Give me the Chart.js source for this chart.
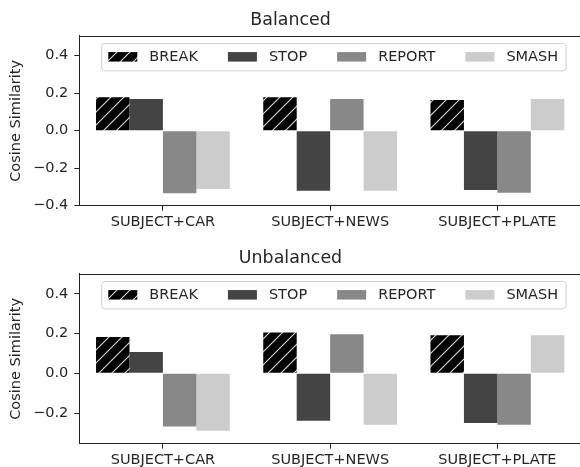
<!DOCTYPE html>
<html lang="en">
<head>
<meta charset="UTF-8">
<title>Cosine Similarity</title>
<script src="https://cdn.jsdelivr.net/npm/chart.js"></script>
<style>
  html, body { margin: 0; padding: 0; background: #fff; overflow: hidden; width: 580px; height: 467px; }
  .panel { position: absolute; left: 0; width: 581px; height: 235px; }
  #top { top: 0; }
  #bottom { top: 238px; }
</style>
</head>
<body>
<div class="panel" id="top"><canvas id="balanced" width="581" height="235"></canvas></div>
<div class="panel" id="bottom"><canvas id="unbalanced" width="581" height="235"></canvas></div>
<script>
var categories = ['SUBJECT+CAR', 'SUBJECT+NEWS', 'SUBJECT+PLATE'];
var seriesNames = ['BREAK', 'STOP', 'REPORT', 'SMASH'];

// values
var balancedBreak  = [0.178, 0.178, 0.164];
var balancedStop   = [0.169, -0.320, -0.316];
var balancedReport = [-0.334, 0.169, -0.331];
var balancedSmash  = [-0.311, -0.320, 0.169];

var unbalancedBreak  = [0.183, 0.205, 0.192];
var unbalancedStop   = [0.108, -0.239, -0.250];
var unbalancedReport = [-0.267, 0.197, -0.259];
var unbalancedSmash  = [-0.289, -0.259, 0.192];

var balancedTicks = [-0.4, -0.2, 0.0, 0.2, 0.4];
var unbalancedTicks = [-0.2, 0.0, 0.2, 0.4];

var FONT = '"DejaVu Sans", Verdana, sans-serif';
var TEXT = '#262626';
var seriesColors = [null, '#444444', '#888888', '#cccccc'];

function makeHatch(ctx) {
    // black fill with thin white "/" lines
    var c = document.createElement('canvas');
    c.width = 13; c.height = 13;
    var g = c.getContext('2d');
    g.fillStyle = '#000';
    g.fillRect(0, 0, 13, 13);
    g.strokeStyle = 'rgba(255,255,255,0.85)';
    g.lineWidth = 1.1;
    g.beginPath();
    g.moveTo(-1, 14); g.lineTo(14, -1);
    g.moveTo(-1, 1); g.lineTo(1, -1);
    g.moveTo(12, 14); g.lineTo(14, 12);
    g.stroke();
    return ctx.createPattern(c, 'repeat');
}

function fmt(v) {
    var s = Math.abs(v).toFixed(1);
    return v < -1e-9 ? '\u2212' + s : s;
}

// box around the plot (top/right spines)
var frame = {
    id: 'frame',
    afterDraw: function(chart) {
        var a = chart.chartArea, ctx = chart.ctx;
        ctx.save();
        ctx.strokeStyle = '#222';
        ctx.lineWidth = 1;
        ctx.beginPath();
        ctx.moveTo(a.left, Math.round(a.top) + 0.5);
        ctx.lineTo(a.right, Math.round(a.top) + 0.5);
        ctx.lineTo(a.right, a.bottom);
        ctx.stroke();
        ctx.restore();
    }
};

// matplotlib-like legend inside the axes, 4 columns
var insideLegend = {
    id: 'insideLegend',
    afterDatasetsDraw: function(chart) {
        var ctx = chart.ctx, a = chart.chartArea;
        var ds = chart.data.datasets;
        ctx.save();
        ctx.font = '14.5px ' + FONT;
        var x0 = a.left + 22.4, y0 = a.top + 7.5, h = 27.4;
        var w = 6.6;
        ds.forEach(function(d, i) {
            w += 41 + ctx.measureText(d.label).width + (i < ds.length - 1 ? 30 : 8);
        });
        var r = 3;
        ctx.beginPath();
        ctx.moveTo(x0 + r, y0);
        ctx.arcTo(x0 + w, y0, x0 + w, y0 + h, r);
        ctx.arcTo(x0 + w, y0 + h, x0, y0 + h, r);
        ctx.arcTo(x0, y0 + h, x0, y0, r);
        ctx.arcTo(x0, y0, x0 + w, y0, r);
        ctx.closePath();
        ctx.fillStyle = 'rgba(255,255,255,0.8)';
        ctx.fill();
        ctx.strokeStyle = '#d0d0d0';
        ctx.lineWidth = 1;
        ctx.stroke();

        var x = x0 + 6.6;
        ds.forEach(function(d, i) {
            ctx.fillStyle = d.backgroundColor;
            ctx.fillRect(x, y0 + 8.6, 29, 9.5);
            ctx.fillStyle = TEXT;
            ctx.textBaseline = 'middle';
            ctx.textAlign = 'left';
            ctx.fillText(d.label, x + 41, y0 + h / 2 + 0.3);
            x += 41 + ctx.measureText(d.label).width + 30;
        });
        ctx.restore();
    }
};

function buildChart(id, title, series, yMin, yMax, yTicks) {
    var canvas = document.getElementById(id);
    var ctx = canvas.getContext('2d');
    var hatch = makeHatch(ctx);
    var datasets = seriesNames.map(function(name, i) {
        return {
            label: name,
            data: series[i],
            backgroundColor: i === 0 ? hatch : seriesColors[i],
            borderWidth: 0,
            categoryPercentage: 0.8,
            barPercentage: 1.0
        };
    });

    return new Chart(ctx, {
        type: 'bar',
        data: { labels: categories, datasets: datasets },
        options: {
            responsive: false,
            animation: false,
            devicePixelRatio: 1,
            layout: { padding: { left: 0, right: 0, top: 0, bottom: 0 } },
            plugins: {
                legend: { display: false },
                tooltip: { enabled: false },
                title: {
                    display: true,
                    text: title,
                    color: TEXT,
                    font: { family: FONT, size: 17.4, weight: 'normal' },
                    padding: { top: 9.6, bottom: 5.5 }
                }
            },
            scales: {
                x: {
                    grid: { drawOnChartArea: false, offset: false, tickLength: 5, color: '#222' },
                    border: { color: '#222', width: 1 },
                    ticks: { color: TEXT, padding: 3, font: { family: FONT, size: 14.5 } },
                    afterFit: function(s) { s.height = 29.3; }
                },
                y: {
                    min: yMin,
                    max: yMax,
                    grid: { drawOnChartArea: false, tickLength: 5, color: '#222' },
                    border: { color: '#222', width: 1 },
                    ticks: {
                        color: TEXT,
                        padding: 6,
                        font: { family: FONT, size: 14.5 },
                        callback: function(v) { return fmt(v); }
                    },
                    afterBuildTicks: function(s) {
                        s.ticks = yTicks.map(function(v) { return { value: v }; });
                    },
                    afterFit: function(s) { s.width = 79.3; },
                    title: {
                        display: true,
                        text: 'Cosine Similarity',
                        color: TEXT,
                        font: { family: FONT, size: 14.5 },
                        padding: { top: 8, bottom: 0 }
                    }
                }
            }
        },
        plugins: [frame, insideLegend]
    });
}

buildChart('balanced', 'Balanced',
    [balancedBreak, balancedStop, balancedReport, balancedSmash],
    -0.4, 0.505, balancedTicks);

buildChart('unbalanced', 'Unbalanced',
    [unbalancedBreak, unbalancedStop, unbalancedReport, unbalancedSmash],
    -0.354, 0.5, unbalancedTicks);
</script>
</body>
</html>
